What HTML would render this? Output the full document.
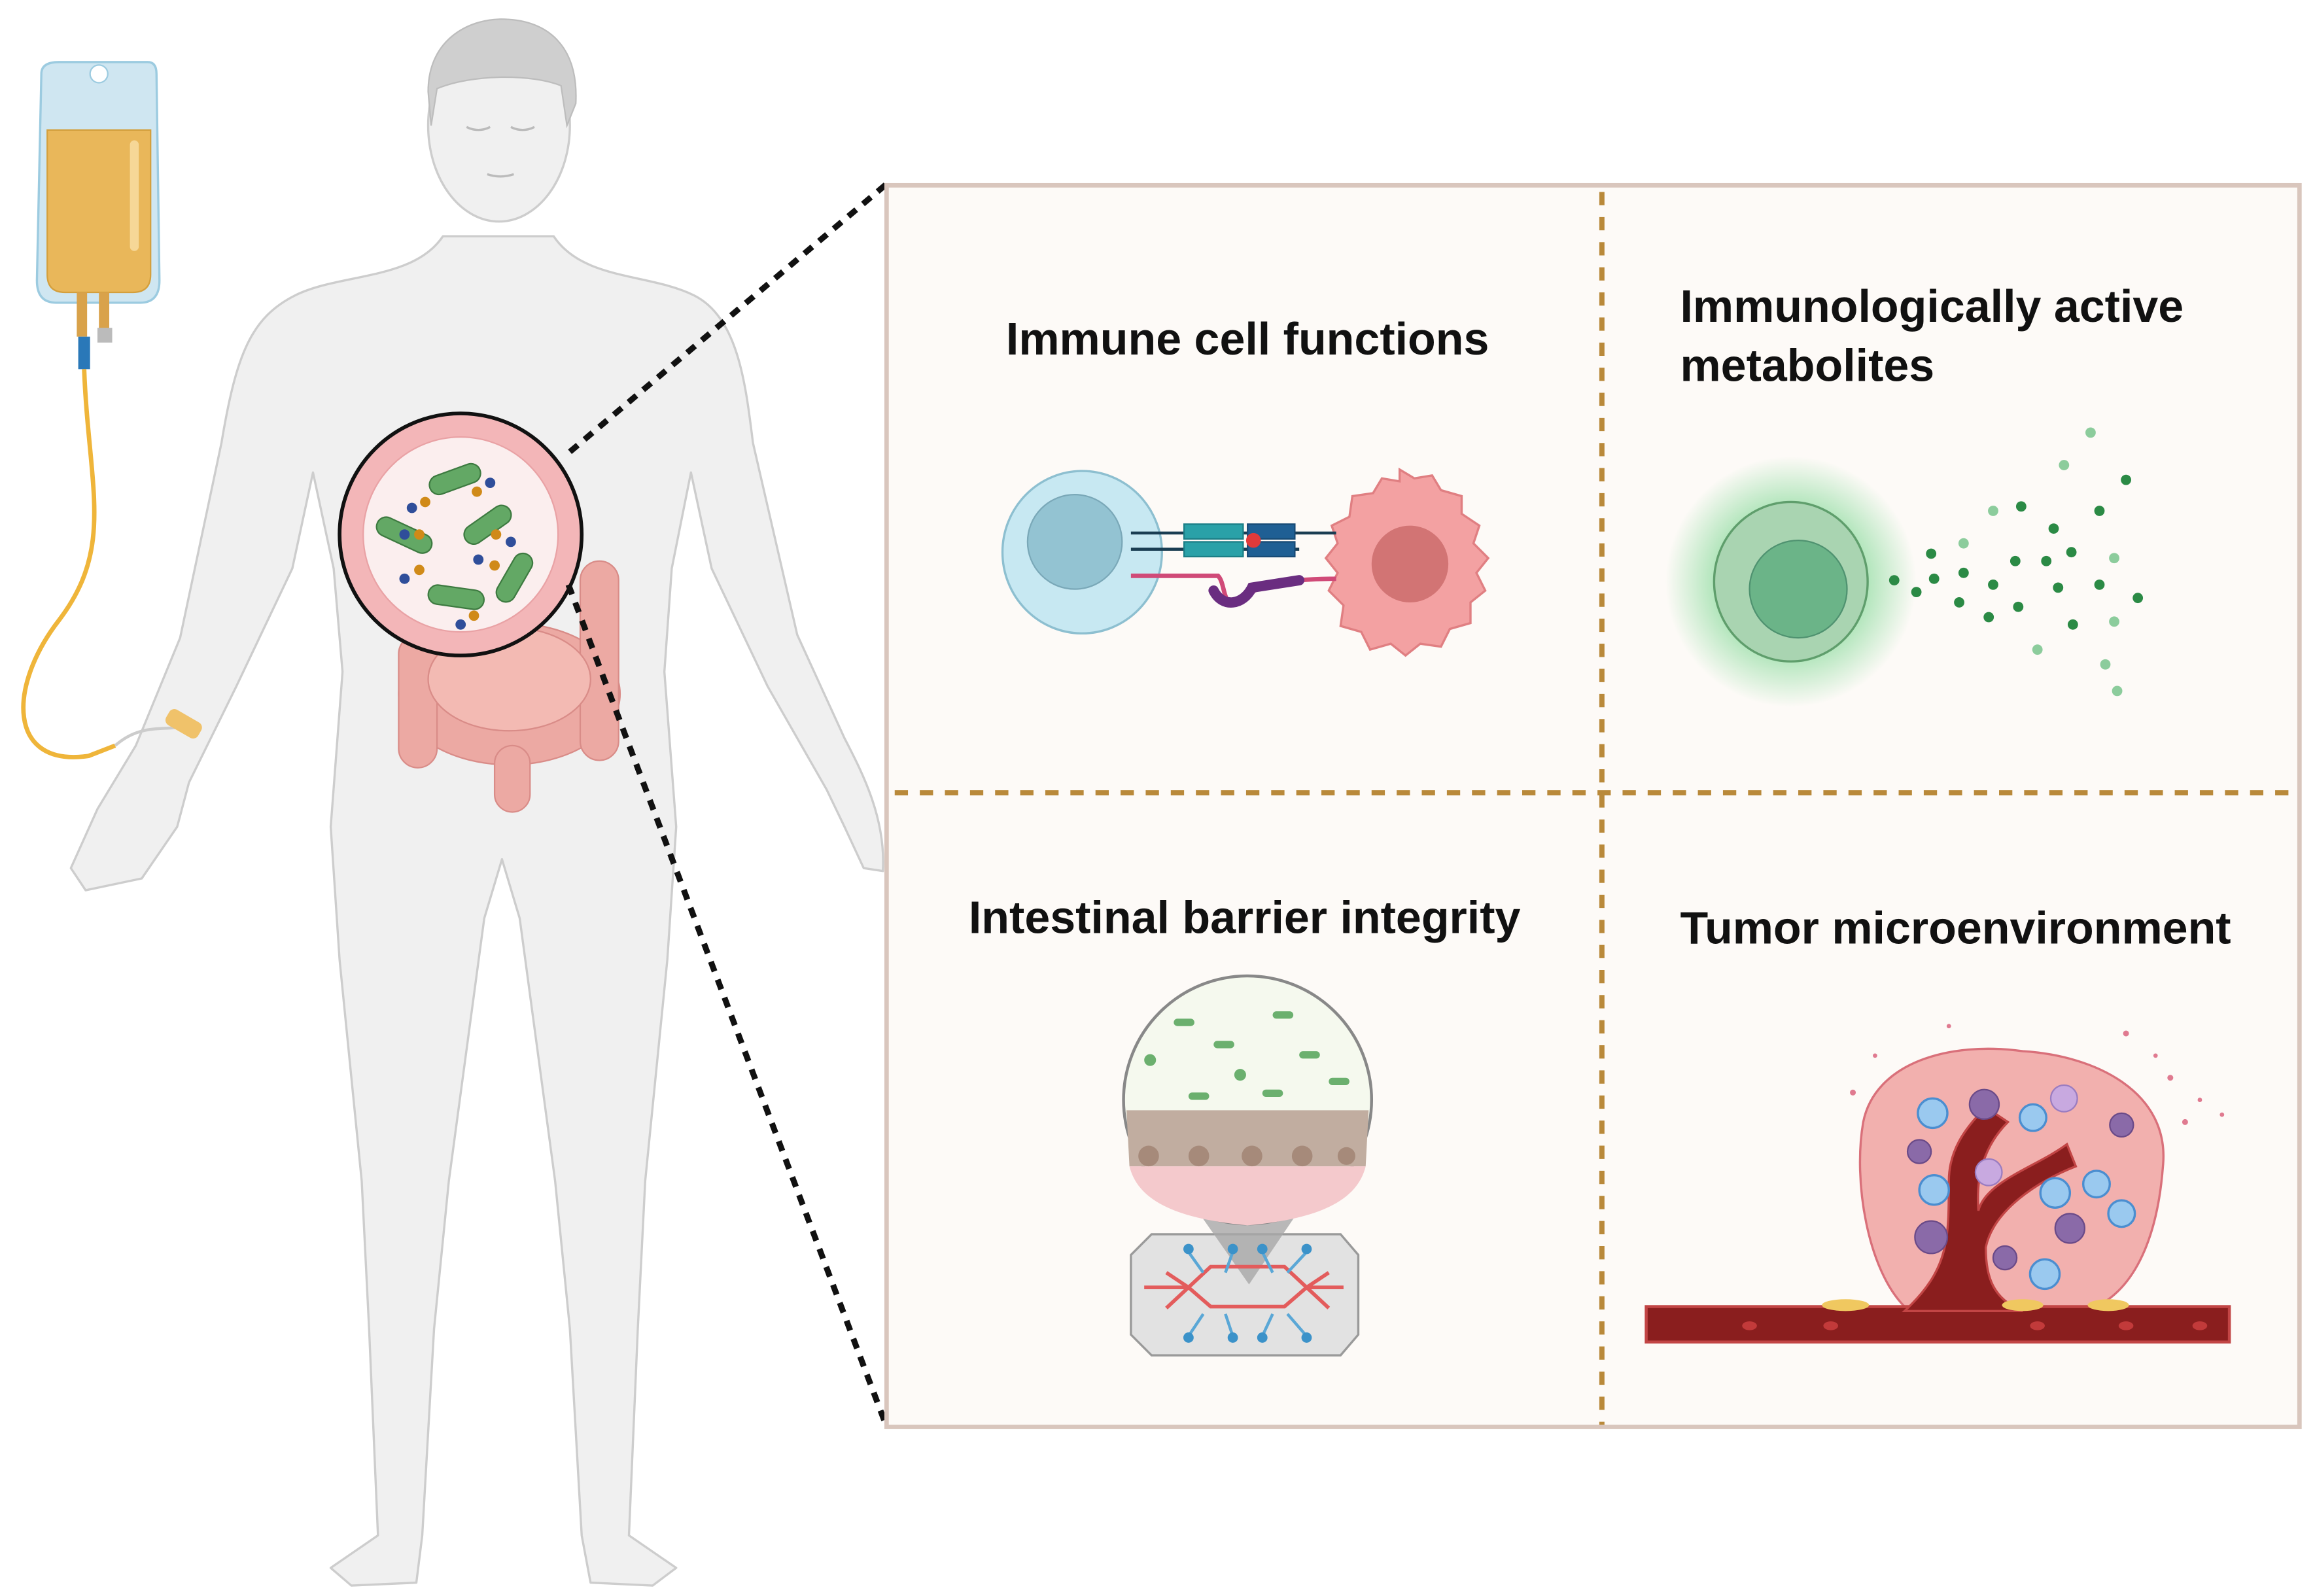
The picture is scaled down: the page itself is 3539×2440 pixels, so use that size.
<!DOCTYPE html>
<html><head><meta charset="utf-8"><style>
html,body{margin:0;padding:0;background:#fff;}
svg{display:block}
text{font-family:"Liberation Sans",sans-serif;font-weight:bold;fill:#111;}
</style></head><body>
<svg width="3539" height="2440" viewBox="0 0 1568 1081" xmlns="http://www.w3.org/2000/svg">
<defs>
<radialGradient id="glow" cx="50%" cy="50%" r="50%">
<stop offset="0.55" stop-color="#5fcf7a" stop-opacity="0.55"/>
<stop offset="1" stop-color="#5fcf7a" stop-opacity="0"/>
</radialGradient>
</defs>
<rect width="1568" height="1081" fill="#fff"/>

<!-- Body -->
<g fill="#f0f0f0" stroke="#cdcdcd" stroke-width="1.5" stroke-linejoin="round">
<path d="M300,160 L375,160 C395,190 440,185 470,200 C500,215 505,260 510,300 L540,430 L572,500 C585,525 600,555 598,590 L585,588 L572,560 L560,535 L520,465 L482,385 L468,320 L455,385 L450,455 L458,560 L452,650 L437,800 L432,900 L426,1040 L458,1062 L442,1074 L400,1072 L394,1040 L386,900 L376,800 L352,622 L340,582 L328,622 L304,800 L294,900 L286,1040 L282,1072 L238,1074 L224,1062 L256,1040 L250,900 L245,800 L230,650 L224,560 L232,455 L226,385 L212,320 L198,385 L160,465 L128,530 L120,560 L96,595 L58,603 L48,588 L66,548 L92,505 L122,432 L150,300 C160,240 170,215 200,200 C230,185 280,190 300,160 Z"/>
<ellipse cx="338" cy="85" rx="48" ry="65"/>
</g>
<path d="M290,62 C290,25 320,12 342,13 C370,14 392,30 390,70 L384,85 L380,58 C360,50 320,50 296,60 L292,85 Z" fill="#cfcfcf" stroke="#bdbdbd"/>
<g stroke="#bbb" stroke-width="1.5" fill="none">
<path d="M316,86 q8,4 16,0 M346,86 q8,4 16,0 M330,118 q9,3 18,0"/>
</g>

<!-- intestines -->
<g fill="#eca9a3" stroke="#d98c88" stroke-width="1">
<ellipse cx="345" cy="470" rx="75" ry="48"/>
<rect x="270" y="430" width="26" height="90" rx="13"/>
<rect x="393" y="380" width="26" height="135" rx="13"/>
<rect x="335" y="505" width="24" height="45" rx="12"/>
<ellipse cx="345" cy="460" rx="55" ry="35" fill="#f3bab3"/>
</g>

<!-- magnified circle -->
<circle cx="312" cy="362" r="82" fill="#f3b6b8" stroke="#111" stroke-width="2.5"/>
<circle cx="312" cy="362" r="66" fill="#fbeeee" stroke="#e9a2a5" stroke-width="1"/>
<g fill="#63a865" stroke="#3d7a40" stroke-width="1">
<rect x="290" y="318" width="36" height="13" rx="6.5" transform="rotate(-20 308 324)"/>
<rect x="254" y="356" width="40" height="13" rx="6.5" transform="rotate(25 274 362)"/>
<rect x="312" y="349" width="36" height="13" rx="6.5" transform="rotate(-35 330 355)"/>
<rect x="290" y="398" width="38" height="13" rx="6.5" transform="rotate(8 309 404)"/>
<rect x="330" y="385" width="36" height="13" rx="6.5" transform="rotate(-60 348 391)"/>
</g>
<g fill="#2f4e9a"><circle cx="279" cy="344" r="3.5"/><circle cx="332" cy="327" r="3.5"/><circle cx="274" cy="362" r="3.5"/><circle cx="324" cy="379" r="3.5"/><circle cx="274" cy="392" r="3.5"/><circle cx="312" cy="423" r="3.5"/><circle cx="346" cy="367" r="3.5"/></g>
<g fill="#d08a18"><circle cx="288" cy="340" r="3.5"/><circle cx="323" cy="333" r="3.5"/><circle cx="284" cy="362" r="3.5"/><circle cx="335" cy="383" r="3.5"/><circle cx="284" cy="386" r="3.5"/><circle cx="321" cy="417" r="3.5"/><circle cx="336" cy="362" r="3.5"/></g>

<!-- dotted connectors -->
<g stroke="#111" stroke-width="4" stroke-dasharray="7,6" fill="none">
<line x1="386" y1="306" x2="600" y2="125"/>
<line x1="385" y1="396" x2="600" y2="965"/>
</g>

<!-- IV bag -->
<path d="M40,42 L100,42 Q106,42 106,50 L108,190 Q108,205 95,205 L38,205 Q25,205 25,190 L28,50 Q28,42 40,42 Z" fill="#cfe6f1" stroke="#9ccbe0" stroke-width="1.5"/>
<circle cx="67" cy="50" r="6" fill="#fff" stroke="#9ccbe0"/>
<path d="M32,88 L102,88 L102,186 Q102,198 90,198 L44,198 Q32,198 32,186 Z" fill="#e9b75a" stroke="#d49f3c"/>
<rect x="88" y="95" width="6" height="75" rx="3" fill="#f6d797"/>
<rect x="52" y="198" width="7" height="30" fill="#d9a24a"/>
<rect x="67" y="198" width="7" height="30" fill="#d9a24a"/>
<rect x="66" y="222" width="10" height="10" fill="#bbb"/>
<rect x="53" y="228" width="8" height="22" fill="#2a78b8"/>
<path d="M57,250 C60,330 78,370 40,420 C5,465 5,520 60,512 L78,505" stroke="#efb53a" stroke-width="3" fill="none"/>
<path d="M78,505 C95,490 110,495 125,492" stroke="#ccc" stroke-width="2" fill="none"/>
<rect x="112" y="484" width="25" height="12" rx="4" fill="#f0c26a" transform="rotate(30 124 490)"/>

<!-- Panel -->
<rect x="600.5" y="125.5" width="957" height="841" fill="#fdfaf7" stroke="#d9c6bd" stroke-width="3"/>
<g stroke="#b9893a" stroke-width="3.5" stroke-dasharray="9,8" fill="none">
<line x1="1085" y1="130" x2="1085" y2="965"/>
<line x1="606" y1="537" x2="1552" y2="537"/>
</g>

<text x="845" y="240" font-size="31" text-anchor="middle">Immune cell functions</text>
<text x="1138" y="218" font-size="31">Immunologically active</text>
<text x="1138" y="258" font-size="31">metabolites</text>
<text x="843" y="632" font-size="31" text-anchor="middle">Intestinal barrier integrity</text>
<text x="1138" y="639" font-size="31">Tumor microenvironment</text>

<!-- Panel 1 -->
<ellipse cx="733" cy="374" rx="54" ry="55" fill="#c7e8f2" stroke="#8dbfd0" stroke-width="1.5"/>
<ellipse cx="728" cy="367" rx="32" ry="32" fill="#93c3d2" stroke="#7aa8b8"/>
<path d="M948,318 l10,6 l12,-2 l6,10 l14,4 l0,12 l12,8 l-4,12 l10,10 l-8,10 l6,12 l-10,8 l0,14 l-14,4 l-6,12 l-14,-2 l-10,8 l-10,-8 l-14,4 l-6,-12 l-14,-4 l2,-14 l-10,-10 l6,-12 l-8,-10 l8,-10 l-4,-12 l12,-6 l2,-14 l14,-2 l6,-10 l12,2 Z" fill="#f3a1a2" stroke="#e07f82" stroke-width="1.5"/>
<ellipse cx="955" cy="382" rx="26" ry="26" fill="#d27474"/>
<g stroke="#1a3d52" stroke-width="2"><line x1="766" y1="361" x2="905" y2="361"/><line x1="766" y1="372" x2="880" y2="372"/></g>
<g fill="#2aa1a8" stroke="#1b7e86"><rect x="802" y="355" width="40" height="10"/><rect x="802" y="367" width="40" height="10"/></g>
<g fill="#1f5f94" stroke="#174a75"><rect x="845" y="355" width="32" height="10"/><rect x="845" y="367" width="32" height="10"/></g>
<circle cx="849" cy="366" r="5" fill="#e03a3a"/>
<path d="M766,390 L825,390 C830,395 828,410 836,408 C845,404 850,392 905,392" stroke="#d04a78" stroke-width="3" fill="none"/>
<path d="M822,400 C828,412 842,410 848,398 L880,393" stroke="#6a2d80" stroke-width="7" fill="none" stroke-linecap="round"/>

<!-- Panel 2 -->
<circle cx="1213" cy="394" r="85" fill="url(#glow)"/>
<ellipse cx="1213" cy="394" rx="52" ry="54" fill="#a9d4b1" stroke="#5f9e6c" stroke-width="1.5"/>
<circle cx="1218" cy="399" r="33" fill="#6bb488" stroke="#4f9270"/>
<g fill="#2b8a45">
<circle cx="1283" cy="393" r="3.5"/><circle cx="1298" cy="401" r="3.5"/><circle cx="1310" cy="392" r="3.5"/><circle cx="1308" cy="375" r="3.5"/><circle cx="1330" cy="388" r="3.5"/><circle cx="1327" cy="408" r="3.5"/><circle cx="1350" cy="396" r="3.5"/><circle cx="1365" cy="380" r="3.5"/><circle cx="1367" cy="411" r="3.5"/><circle cx="1347" cy="418" r="3.5"/><circle cx="1391" cy="358" r="3.5"/><circle cx="1386" cy="380" r="3.5"/><circle cx="1403" cy="374" r="3.5"/><circle cx="1394" cy="398" r="3.5"/><circle cx="1369" cy="343" r="3.5"/><circle cx="1422" cy="346" r="3.5"/><circle cx="1440" cy="325" r="3.5"/><circle cx="1448" cy="405" r="3.5"/><circle cx="1422" cy="396" r="3.5"/><circle cx="1404" cy="423" r="3.5"/>
</g>
<g fill="#8ccc9c">
<circle cx="1330" cy="368" r="3.5"/><circle cx="1350" cy="346" r="3.5"/><circle cx="1398" cy="315" r="3.5"/><circle cx="1416" cy="293" r="3.5"/><circle cx="1432" cy="378" r="3.5"/><circle cx="1432" cy="421" r="3.5"/><circle cx="1380" cy="440" r="3.5"/><circle cx="1426" cy="450" r="3.5"/><circle cx="1434" cy="468" r="3.5"/>
</g>

<!-- Panel 3 -->
<path d="M780,836 L908,836 L920,850 L920,904 L908,918 L780,918 L766,904 L766,850 Z" fill="#e2e2e2" stroke="#9a9a9a" stroke-width="1.5"/>
<path d="M790,790 L900,790 L846,870 Z" fill="#a8a8a8" opacity="0.8"/>
<circle cx="845" cy="745" r="84" fill="#f5f9ee" stroke="#888" stroke-width="2"/>
<path d="M763,752 L927,752 L925,790 L765,790 Z" fill="#c1ada0"/>
<path d="M765,790 L925,790 C920,810 900,825 845,830 C790,825 770,810 765,790 Z" fill="#f4c9cc"/>
<g fill="#a68a7a"><circle cx="778" cy="783" r="7"/><circle cx="812" cy="783" r="7"/><circle cx="848" cy="783" r="7"/><circle cx="882" cy="783" r="7"/><circle cx="912" cy="783" r="6"/></g>
<g fill="#6bb06e"><rect x="795" y="690" width="14" height="5" rx="2.5"/><rect x="822" y="705" width="14" height="5" rx="2.5"/><rect x="862" y="685" width="14" height="5" rx="2.5"/><rect x="880" y="712" width="14" height="5" rx="2.5"/><rect x="805" y="740" width="14" height="5" rx="2.5"/><rect x="855" y="738" width="14" height="5" rx="2.5"/><rect x="900" y="730" width="14" height="5" rx="2.5"/><circle cx="779" cy="718" r="4"/><circle cx="840" cy="728" r="4"/></g>
<g stroke="#e35c5c" stroke-width="2.5" fill="none"><path d="M775,872 L805,872 L820,858 L870,858 L885,872 L910,872 M805,872 L820,885 L870,885 L885,872 M790,862 L805,872 M790,886 L805,872 M900,862 L885,872 M900,886 L885,872"/></g>
<g stroke="#5aa7d6" stroke-width="2" fill="none"><path d="M805,848 L815,862 M835,848 L830,862 M855,848 L862,862 M885,848 L872,862 M805,905 L815,890 M835,905 L830,890 M855,905 L862,890 M885,905 L872,890"/></g>
<g fill="#3b92c9"><circle cx="805" cy="846" r="3.5"/><circle cx="835" cy="846" r="3.5"/><circle cx="855" cy="846" r="3.5"/><circle cx="885" cy="846" r="3.5"/><circle cx="805" cy="906" r="3.5"/><circle cx="835" cy="906" r="3.5"/><circle cx="855" cy="906" r="3.5"/><circle cx="885" cy="906" r="3.5"/></g>

<!-- Panel 4 -->
<path d="M1262,760 C1270,720 1320,705 1370,712 C1420,715 1470,740 1465,790 C1462,830 1450,870 1420,885 L1290,885 C1265,860 1255,800 1262,760 Z" fill="#f2b0ae" stroke="#d9707a" stroke-width="1.5"/>
<rect x="1115" y="885" width="395" height="24" fill="#8a1e1e" stroke="#c24545" stroke-width="2"/>
<path d="M1290,888 C1320,860 1320,840 1320,800 C1320,780 1330,765 1345,750 L1360,760 C1345,775 1338,795 1340,820 C1345,800 1380,790 1400,775 L1406,790 C1380,800 1350,820 1345,845 C1345,865 1350,880 1370,888 Z" fill="#8a1e1e" stroke="#c24545" stroke-width="1.5"/>
<g fill="#9ac9ef" stroke="#4b8ed0" stroke-width="1.5"><circle cx="1309" cy="754" r="10"/><circle cx="1377" cy="757" r="9"/><circle cx="1310" cy="806" r="10"/><circle cx="1392" cy="808" r="10"/><circle cx="1437" cy="822" r="9"/><circle cx="1385" cy="863" r="10"/><circle cx="1420" cy="802" r="9"/></g>
<g fill="#8a6aa8" stroke="#6a4a88"><circle cx="1344" cy="748" r="10"/><circle cx="1308" cy="838" r="11"/><circle cx="1402" cy="832" r="10"/><circle cx="1358" cy="852" r="8"/><circle cx="1437" cy="762" r="8"/><circle cx="1300" cy="780" r="8"/></g>
<g fill="#c8a9e0" stroke="#9a7cc0"><circle cx="1398" cy="744" r="9"/><circle cx="1347" cy="794" r="9"/></g>
<g fill="#f0c860"><ellipse cx="1250" cy="884" rx="16" ry="4"/><ellipse cx="1370" cy="884" rx="14" ry="4"/><ellipse cx="1428" cy="884" rx="14" ry="4"/></g>
<g fill="#e07a90"><circle cx="1255" cy="740" r="2"/><circle cx="1270" cy="715" r="1.5"/><circle cx="1320" cy="695" r="1.5"/><circle cx="1440" cy="700" r="2"/><circle cx="1470" cy="730" r="2"/><circle cx="1490" cy="745" r="1.5"/><circle cx="1480" cy="760" r="2"/><circle cx="1505" cy="755" r="1.5"/><circle cx="1460" cy="715" r="1.5"/></g>
<g fill="#c23a3a"><ellipse cx="1185" cy="898" rx="5" ry="3"/><ellipse cx="1240" cy="898" rx="5" ry="3"/><ellipse cx="1380" cy="898" rx="5" ry="3"/><ellipse cx="1440" cy="898" rx="5" ry="3"/><ellipse cx="1490" cy="898" rx="5" ry="3"/></g>
</svg>
</body></html>
